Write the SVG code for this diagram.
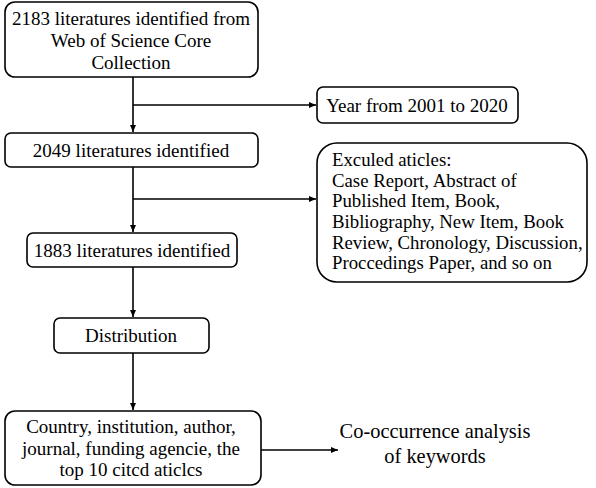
<svg xmlns="http://www.w3.org/2000/svg" width="596" height="488" viewBox="0 0 596 488">
<style>
.box{fill:#fff;stroke:#000;stroke-width:1.6}
.t{font-family:"Liberation Serif","Times New Roman",serif;font-size:19px;fill:#000;text-anchor:middle}
.tl{font-family:"Liberation Serif","Times New Roman",serif;font-size:18.8px;fill:#000}
.big{font-family:"Liberation Serif","Times New Roman",serif;font-size:20.4px;fill:#000;text-anchor:middle}
.ln{stroke:#000;stroke-width:1.6;fill:none}
</style>
<defs>
<marker id="ah" markerWidth="8" markerHeight="8" refX="7" refY="4" orient="auto" markerUnits="userSpaceOnUse">
<path d="M0,1 L7,4 L0,7 Z" fill="#000"/>
</marker>
</defs>
<rect width="596" height="488" fill="#fff"/>
<g id="connectors">
<path class="ln" d="M133,77 V132" marker-end="url(#ah)"/>
<path class="ln" d="M133,105 H316" marker-end="url(#ah)"/>
<path class="ln" d="M133,167 V232" marker-end="url(#ah)"/>
<path class="ln" d="M133,199 H316" marker-end="url(#ah)"/>
<path class="ln" d="M133,267 V317" marker-end="url(#ah)"/>
<path class="ln" d="M133,353 V410" marker-end="url(#ah)"/>
<path class="ln" d="M261,450 H338" marker-end="url(#ah)"/>
</g>
<g id="n1">
<rect class="box" x="5" y="2" width="253" height="75" rx="10"/>
<text class="t" x="131" y="25">2183 literatures identified from</text>
<text class="t" x="131" y="47">Web of Science Core</text>
<text class="t" x="131" y="69">Collection</text>
</g>
<g id="n2">
<rect class="box" x="317" y="87" width="201" height="36" rx="6"/>
<text class="t" x="417" y="112">Year from 2001 to 2020</text>
</g>
<g id="n3">
<rect class="box" x="5" y="133" width="253" height="34" rx="6"/>
<text class="t" x="131" y="157">2049 literatures identified</text>
</g>
<g id="n4">
<rect class="box" x="317" y="143" width="270" height="139" rx="20"/>
<text class="tl" x="332" y="166">Exculed  aticles:</text>
<text class="tl" x="332" y="187">Case Report, Abstract of</text>
<text class="tl" x="332" y="207">Published Item, Book,</text>
<text class="tl" x="332" y="228">Bibliography, New Item, Book</text>
<text class="tl" x="332" y="249">Review, Chronology, Discussion,</text>
<text class="tl" x="332" y="269">Proccedings Paper, and so on</text>
</g>
<g id="n5">
<rect class="box" x="27" y="233" width="210" height="34" rx="6"/>
<text class="t" x="132" y="257">1883 literatures identified</text>
</g>
<g id="n6">
<rect class="box" x="54" y="318" width="155" height="35" rx="6"/>
<text class="t" x="131" y="342">Distribution</text>
</g>
<g id="n7">
<rect class="box" x="5" y="411" width="256" height="74" rx="10"/>
<text class="t" x="131" y="433">Country, institution, author,</text>
<text class="t" x="131" y="455">journal, funding agencie, the</text>
<text class="t" x="131" y="476">top 10 citcd aticlcs</text>
</g>
<g id="n8">
<text class="big" x="435" y="438">Co-occurrence analysis</text>
<text class="big" x="435" y="463">of keywords</text>
</g>
</svg>
